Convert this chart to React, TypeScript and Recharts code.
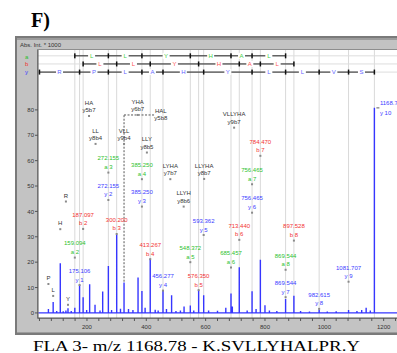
import React from 'react';
import { ComposedChart, XAxis, YAxis, ReferenceLine, Scatter, Line } from 'recharts';

// ---------- spectrum peaks (m/z, intensity x1000) ----------
const peakMz = [70.1, 86.1, 98, 110.1, 120, 129.1, 136.1, 147, 159.1, 175.1, 187.1, 199, 209.1, 227.2, 244, 253, 272.2, 283, 300.2, 313, 325, 340, 355, 372.2, 385.3, 396, 413.3, 430, 440, 456.3, 468, 485.3, 500, 515, 527.3, 548.4, 560, 576.4, 593.4, 610, 640, 668, 685.5, 690, 713.4, 740, 756.5, 770, 784.5, 800, 815, 840, 869.5, 897.5, 920, 950, 982.6, 1010, 1040, 1081.7, 1110, 1126, 1141, 1155, 1168.8];
const peakIntensity = [1.5, 4.3, 0.8, 19.6, 0.7, 1.0, 1.8, 0.8, 2.0, 11.0, 6.2, 1.2, 11.3, 3.2, 1.0, 8.4, 18.5, 1.2, 30.8, 1.6, 12.0, 1.5, 1.2, 14.0, 8.6, 2.0, 21.2, 1.3, 1.0, 9.0, 1.5, 7.0, 0.8, 1.0, 2.5, 2.9, 1.0, 9.0, 7.0, 1.0, 0.9, 2.0, 7.7, 2.5, 18.0, 1.0, 8.5, 1.5, 21.0, 3.0, 1.0, 0.8, 5.5, 6.8, 0.8, 0.6, 1.3, 0.6, 0.7, 1.2, 0.8, 1.2, 2.0, 1.0, 80.8];
const spectrumStart = 36;
const spectrumEnd = 1245;

// ---------- fragment ions ----------
const aIonMz = [159.094, 272.155, 385.25, 548.372, 685.457, 756.465, 869.544];
const aIonNames = ['a 2', 'a 3', 'a 4', 'a 5', 'a 6', 'a 7', 'a 8'];
const aLabelLevel = [21.8, 55.3, 52.7, 20.0, 17.9, 50.7, 17.0];

const bIonMz = [187.097, 300.2, 413.267, 576.35, 713.44, 784.47, 897.528];
const bIonNames = ['b 2', 'b 3', 'b 4', 'b 5', 'b 6', 'b 7', 'b 8'];
const bLabelLevel = [33.1, 31.1, 21.2, 9.0, 28.8, 61.9, 28.5];

const yIonMz = [175.106, 272.155, 385.25, 456.277, 593.362, 756.465, 869.544, 982.615, 1081.707, 1168.78];
const yIonNames = ['y 1', 'y 2', 'y 3', 'y 4', 'y 5', 'y 6', 'y 7', 'y 8', 'y 9', 'y 10'];
const yLabelLevel = [11.0, 44.5, 41.9, 8.8, 30.7, 39.5, 6.2, 1.6, 12.3, 80.8];

// internal fragments
const internalNames = ['HA', 'LL', 'VLL', 'YHA', 'LLY', 'LYHA', 'LLYH', 'LLYHA', 'VLLYHA'];
const internalIons = ['y5b7', 'y8b4', 'y9b4', 'y6b7', 'y8b5', 'y7b7', 'y8b6', 'y8b7', 'y9b7'];
const internalLabelMz = [207, 229, 325, 371, 402, 481, 526, 595, 696];
const internalLabelLevel = [77.6, 66.6, 66.6, 78.0, 63.2, 52.7, 41.9, 52.8, 73.0];

// HAL internal fragment with dashed connector
const halPeakMz = 325;
const halPeakLevel = 12.3;
const halLinkLevel = 78;
const halLinkEndMz = 428;
const halLabelMz = 449;
const halLabelLevel = 74.5;

// immonium ions
const immoniumNames = ['P', 'L', 'H', 'R', 'Y'];
const immoniumMz = [70.07, 86.1, 110.07, 129.1, 136.08];
const immoniumLevel = [11.4, 6.7, 33.0, 43.9, 3.2];

// sequence ladders
const abResidues = ['L', 'L', 'Y', 'H', 'A', 'L'];
const yLadderStart = 40;
const yResidues = ['R', 'P', 'L', 'A', 'H', 'Y', 'L', 'L', 'V', 'S'];
const rowA = 101.3;
const rowB = 98.1;
const rowY = 94.9;

// axes
const xDomain = [35, 1245];
const yDomain = [-2, 103.6];
const xTicks = [40, 80, 120, 160, 200, 240, 280, 320, 360, 400, 440, 480, 520, 560, 600, 640, 680, 720, 760, 800, 840, 880, 920, 960, 1000, 1040, 1080, 1120, 1160, 1200, 1240];
const xLabelTicks = [200, 400, 600, 800, 1000, 1200];
const yTicks = [0, 10, 20, 30, 40, 50, 60, 70, 80];

const FONT = "'Liberation Sans', Arial, sans-serif";
const SERIF = "'Liberation Serif', 'Times New Roman', serif";
const GREEN = '#2cbf2c';
const RED = '#f23232';
const BLUE = '#3c3cff';
const BLACK = '#333333';

// ---------- derived tables ----------
// stick spectrum drawn as one polyline: baseline -> peak top -> baseline
const spectrum = [
  { mz: spectrumStart, level: 0 },
  ...peakMz.flatMap((mz, i) => [
    { mz, level: 0 },
    { mz, level: peakIntensity[i] },
    { mz, level: 0 },
  ]),
  { mz: spectrumEnd, level: 0 },
];

const colored = (mzs: number[], names: string[], levels: number[], color: string) =>
  mzs.map((mz, i) => ({ mz, level: levels[i], top: mz.toFixed(3), bottom: names[i], color, gap: 'wide', side: i === 9 ? 'right' : 'center' }));

const aLabels = colored(aIonMz, aIonNames, aLabelLevel, GREEN);
const bLabels = colored(bIonMz, bIonNames, bLabelLevel, RED);
const yLabels = colored(yIonMz, yIonNames, yLabelLevel, BLUE);
const internalLabels = internalNames.map((n, i) => ({ mz: internalLabelMz[i], level: internalLabelLevel[i], top: n, bottom: internalIons[i], color: BLACK, gap: 'narrow', side: 'center' }));
const halLabels = [{ mz: halLabelMz, level: halLabelLevel, top: 'HAL', bottom: 'y5b8', color: BLACK, gap: 'narrow', side: 'center', noMarker: true }];
const immoniumLabels = immoniumNames.map((n, i) => ({ mz: immoniumMz[i], level: immoniumLevel[i], top: '', bottom: n, color: BLACK, gap: 'narrow', side: 'center' }));

const ladder = (mzs: number[], level: number) => mzs.map((mz) => ({ mz, level }));
const residuesOf = (mzs: number[], letters: string[], level: number, color: string) =>
  letters.map((letter, i) => ({ mz: (mzs[i] + mzs[i + 1]) / 2, level, letter, color }));

const yLadderMz = [yLadderStart, ...yIonMz];
const aLadder = ladder(aIonMz, rowA);
const bLadder = ladder(bIonMz, rowB);
const yLadder = ladder(yLadderMz, rowY);
const aRes = residuesOf(aIonMz, abResidues, rowA, '#45cf45');
const bRes = residuesOf(bIonMz, abResidues, rowB, '#ff5555');
const yRes = residuesOf(yLadderMz, yResidues, rowY, '#6464ff');

const ionLines = Array.from(new Set([...aIonMz, ...bIonMz, ...yIonMz]));

// ---------- shapes ----------
const TickDot = (props: any) => {
  const { cx, cy, index } = props;
  if (cx == null || cy == null) return <g key={`n${index}`} />;
  return <rect key={`t${index}`} x={cx - 0.75} y={cy - 2.5} width={1.5} height={5} fill="#111" />;
};

const ResidueShape = (props: any) => {
  const { cx, cy } = props;
  const p = props.payload || props;
  return (
    <g>
      <rect x={cx - 3.5} y={cy - 3} width={7} height={6} fill="#ffffff" />
      <text x={cx} y={cy + 2.2} textAnchor="middle" fontSize={6} fontFamily={FONT} fill={p.color}>{p.letter}</text>
    </g>
  );
};

const AnnotationShape = (props: any) => {
  const { cx, cy } = props;
  const p = props.payload || props;
  const common = { fontSize: 6, fontFamily: FONT, fill: p.color };
  if (p.side === 'right') {
    return (
      <g>
        <rect x={cx + 2} y={cy - 0.6} width={3} height={1.2} fill="#777" />
        <text x={cx + 5.5} y={cy - 2.5} {...common}>{p.top}</text>
        <text x={cx + 5.5} y={cy + 7} {...common}>{p.bottom}</text>
      </g>
    );
  }
  const bottomDy = p.gap === 'wide' ? -3.5 : -3.8;
  const topDy = p.gap === 'wide' ? -12.2 : -11.2;
  return (
    <g>
      {!p.noMarker && <rect x={cx - 1} y={cy - 1} width={2} height={2} fill="#8a8a8a" />}
      {p.top ? <text x={cx} y={cy + topDy} textAnchor="middle" {...common}>{p.top}</text> : null}
      <text x={cx} y={cy + bottomDy} textAnchor="middle" {...common}>{p.bottom}</text>
    </g>
  );
};

const XTick = (props: any) => {
  const { x, y, payload } = props;
  if (!xLabelTicks.includes(payload.value)) return <g />;
  return (
    <text x={x} y={y + 7} textAnchor="middle" fontSize={6} fontFamily={FONT} fill="#333">{payload.value}</text>
  );
};

export default function App() {
  return (
    <div style={{ position: 'absolute', left: 0, top: 0, width: 397, height: 353, background: '#fff', overflow: 'hidden' }}>
      {/* instrument panel */}
      <div style={{ position: 'absolute', left: 15, top: 36, width: 400, height: 299, background: '#7a7a7a' }} />
      <div style={{ position: 'absolute', left: 16.5, top: 37.5, width: 400, height: 295.5, background: '#9c9c9c' }} />
      <div style={{ position: 'absolute', left: 16.5, top: 40, width: 400, height: 292, background: '#c3c3c3' }} />
      <div style={{ position: 'absolute', left: 37, top: 49, width: 400, height: 270, background: '#8e8e8e' }} />
      <div style={{ position: 'absolute', left: 38, top: 50, width: 400, height: 268, background: '#ffffff' }} />
      <div style={{ position: 'absolute', left: 20, top: 41.5, fontSize: 6, lineHeight: '7px', fontFamily: FONT, color: '#333', whiteSpace: 'nowrap' }}>Abs. Int. * 1000</div>
      <div style={{ position: 'absolute', left: 25, top: 54, fontSize: 6, lineHeight: '7px', fontFamily: FONT, color: GREEN }}>a</div>
      <div style={{ position: 'absolute', left: 25, top: 60.5, fontSize: 6, lineHeight: '7px', fontFamily: FONT, color: RED }}>b</div>
      <div style={{ position: 'absolute', left: 25, top: 69, fontSize: 6, lineHeight: '7px', fontFamily: FONT, color: BLUE }}>y</div>

      <div style={{ position: 'absolute', left: 0, top: 0 }}>
        <ComposedChart width={397} height={353} margin={{ top: 50, right: 0, bottom: 5, left: 8 }}>
          <XAxis
            type="number"
            dataKey="mz"
            domain={xDomain}
            ticks={xTicks}
            interval={0}
            allowDataOverflow
            height={30}
            tickSize={3}
            tickMargin={1}
            axisLine={{ stroke: '#555' }}
            tickLine={{ stroke: '#555' }}
            tick={<XTick />}
          />
          <YAxis
            type="number"
            domain={yDomain}
            ticks={yTicks}
            interval={0}
            allowDataOverflow
            width={30}
            tickSize={3}
            tickMargin={1}
            axisLine={{ stroke: '#555' }}
            tickLine={{ stroke: '#555' }}
            tick={{ fontSize: 6, fill: '#333', fontFamily: FONT }}
          />
          {ionLines.map((mz) => (
            <ReferenceLine key={`v${mz}`} x={mz} stroke="#d9d9d9" strokeWidth={1} zIndex={-10} />
          ))}
          <ReferenceLine y={rowA} stroke="#dddddd" zIndex={-10} />
          <ReferenceLine y={rowB} stroke="#dddddd" zIndex={-10} />
          <ReferenceLine y={rowY} stroke="#dddddd" zIndex={-10} />
          <Line data={spectrum} dataKey="level" type="linear" stroke="#3636ff" strokeWidth={1.4} dot={false} activeDot={false} isAnimationActive={false} />
          <ReferenceLine segment={[{ x: halPeakMz, y: halPeakLevel }, { x: halPeakMz, y: halLinkLevel }]} stroke="#555" strokeDasharray="2 1.5" />
          <ReferenceLine segment={[{ x: halPeakMz, y: halLinkLevel }, { x: halLinkEndMz, y: halLinkLevel }]} stroke="#555" strokeDasharray="2 1.5" />
          <Line data={aLadder} dataKey="level" stroke="#222" strokeWidth={1} dot={TickDot} activeDot={false} isAnimationActive={false} />
          <Line data={bLadder} dataKey="level" stroke="#222" strokeWidth={1} dot={TickDot} activeDot={false} isAnimationActive={false} />
          <Line data={yLadder} dataKey="level" stroke="#222" strokeWidth={1} dot={TickDot} activeDot={false} isAnimationActive={false} />
          <Scatter data={aRes} dataKey="level" shape={ResidueShape} isAnimationActive={false} />
          <Scatter data={bRes} dataKey="level" shape={ResidueShape} isAnimationActive={false} />
          <Scatter data={yRes} dataKey="level" shape={ResidueShape} isAnimationActive={false} />
          <Scatter data={immoniumLabels} dataKey="level" shape={AnnotationShape} isAnimationActive={false} />
          <Scatter data={internalLabels} dataKey="level" shape={AnnotationShape} isAnimationActive={false} />
          <Scatter data={halLabels} dataKey="level" shape={AnnotationShape} isAnimationActive={false} />
          <Scatter data={aLabels} dataKey="level" shape={AnnotationShape} isAnimationActive={false} />
          <Scatter data={bLabels} dataKey="level" shape={AnnotationShape} isAnimationActive={false} />
          <Scatter data={yLabels} dataKey="level" shape={AnnotationShape} isAnimationActive={false} />
        </ComposedChart>
      </div>

      <svg width={397} height={353} style={{ position: 'absolute', left: 0, top: 0, pointerEvents: 'none' }}>
        <text x={31} y={26.5} fontSize={21} fontWeight="bold" fontFamily={SERIF} fill="#000" textLength={19} lengthAdjust="spacingAndGlyphs">F)</text>
        <text x={33} y={350.5} fontSize={15} fontFamily={SERIF} fill="#000" textLength={327} lengthAdjust="spacingAndGlyphs">FLA 3- m/z 1168.78 - K.SVLLYHALPR.Y</text>
      </svg>
    </div>
  );
}
